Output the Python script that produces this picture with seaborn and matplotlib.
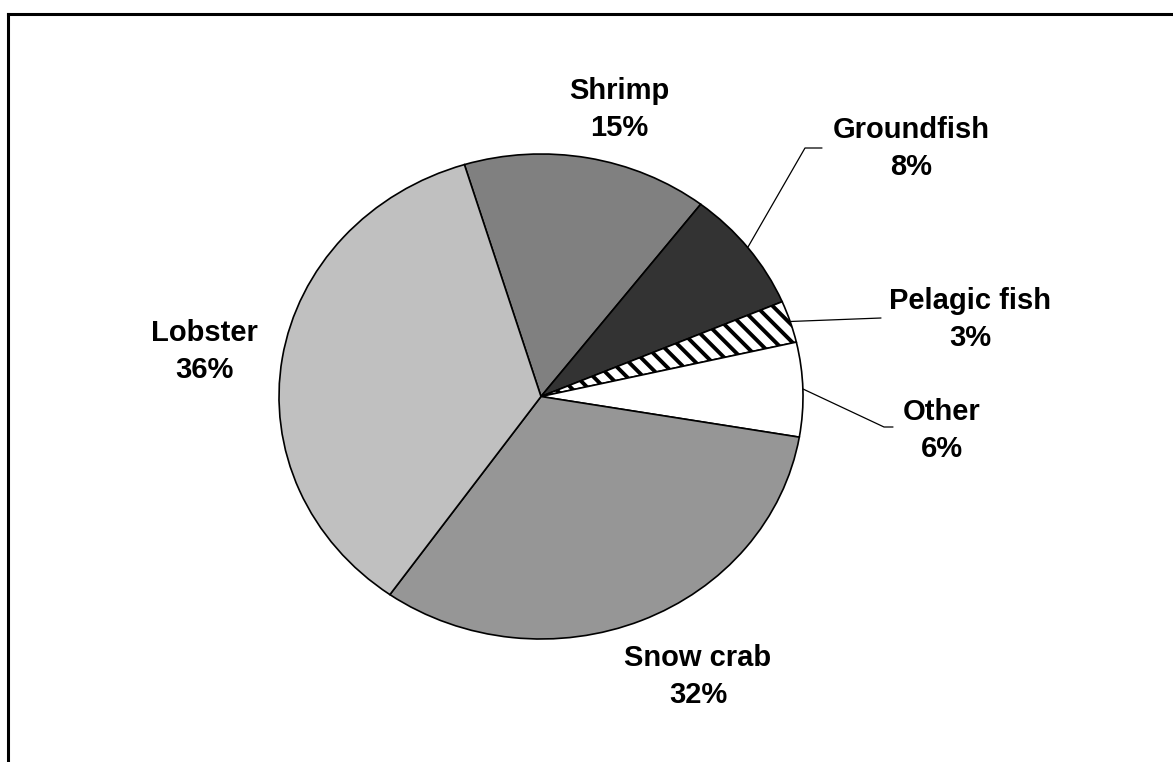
import matplotlib
matplotlib.use("Agg")
import matplotlib.pyplot as plt
import seaborn as sns
from matplotlib.lines import Line2D

# ---- data ----
categories = ["Shrimp", "Groundfish", "Pelagic fish", "Other", "Snow crab", "Lobster"]
shares = [15.2, 8.2, 2.8, 6.3, 32.2, 35.6]
slice_colors = ["#808080", "#333333", "#ffffff", "#ffffff", "#969696", "#c0c0c0"]
slice_hatches = [None, None, "\\\\", None, None, None]

sns.set_theme(style="white")
plt.rcParams["font.family"] = ["Liberation Sans", "DejaVu Sans"]
plt.rcParams["hatch.linewidth"] = 2.8
plt.rcParams["hatch.color"] = "black"

W, H = 1173, 762
fig = plt.figure(figsize=(W / 100, H / 100), dpi=100)
fig.patch.set_facecolor("white")
ax = fig.add_axes([0, 0, 1, 1])

# pie geometry (pixels)
cx, cy, rx, ry = 541, 396.5, 262, 242.5

wedges, _ = ax.pie(shares, colors=slice_colors, startangle=107, counterclock=False,
                   wedgeprops=dict(edgecolor="black", linewidth=1.2))
for w, h in zip(wedges, slice_hatches):
    if h:
        w.set_hatch(h)
ax.set_aspect("auto")
ax.set_xlim(-cx / rx, (W - cx) / rx)
ax.set_ylim(-(H - cy) / ry, cy / ry)
ax.axis("off")


def fx(px):
    return px / W


def fy(py):
    return 1 - py / H


# label positions: (x centre, baseline of first line)
label_pos = {
    "Shrimp": (619, 99),
    "Groundfish": (911, 138),
    "Pelagic fish": (970, 309),
    "Other": (942, 420),
    "Snow crab": (698, 666),
    "Lobster": (204, 341),
}
line_gap = 37
fs = 21
for cat, val in zip(categories, shares):
    x, y = label_pos[cat]
    fig.text(fx(x), fy(y), cat, ha="center", va="baseline", fontsize=fs,
             fontweight="bold", color="black")
    fig.text(fx(x), fy(y + line_gap), f"{val:.0f}%", ha="center", va="baseline",
             fontsize=fs, fontweight="bold", color="black")

# leader lines (pixels)
leaders = [
    [(748, 247), (805, 148), (822, 148)],
    [(790, 321.5), (881, 318)],
    [(803, 389), (884, 427), (893, 427)],
]
for pts in leaders:
    xs = [fx(p[0]) for p in pts]
    ys = [fy(p[1]) for p in pts]
    fig.add_artist(Line2D(xs, ys, transform=fig.transFigure, color="black", lw=0.9))

# outer frame (left and top edges only)
fig.add_artist(Line2D([fx(8), fx(8)], [fy(14), fy(H + 5)], transform=fig.transFigure,
                      color="black", lw=2.2, solid_capstyle="projecting"))
fig.add_artist(Line2D([fx(8), fx(W + 5)], [fy(14), fy(14)], transform=fig.transFigure,
                      color="black", lw=2.2, solid_capstyle="projecting"))

fig.savefig("out.png", dpi=100, facecolor="white")
